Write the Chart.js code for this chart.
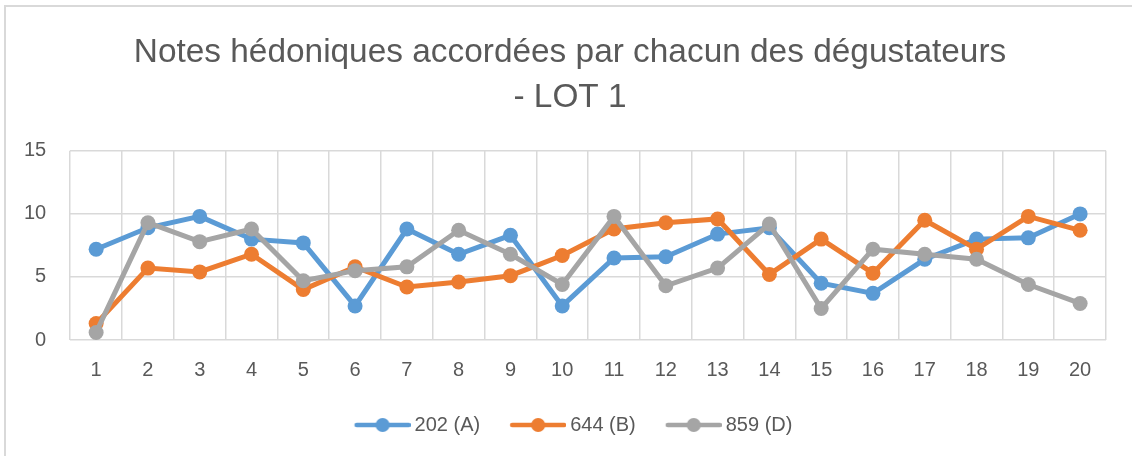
<!DOCTYPE html>
<html lang="fr">
<head>
<meta charset="UTF-8">
<title>Notes hédoniques - LOT 1</title>
<script src="https://cdn.jsdelivr.net/npm/chart.js"></script>
</head>
<body style="margin:0;background:#fff;">
<div style="position:absolute;left:4px;top:5px;width:1140px;height:460px;border:2px solid #d9d9d9;box-sizing:border-box;"></div>
<div style="position:absolute;left:0;top:0;width:1132px;height:456px;">
    <canvas id="notesChart"></canvas>
</div>
<script>
// dégustateurs 1..20
const degustateurs = ['1','2','3','4','5','6','7','8','9','10','11','12','13','14','15','16','17','18','19','20'];
const notes202 = [7.2, 8.9, 9.8, 8.0, 7.7, 2.7, 8.8, 6.8, 8.3, 2.7, 6.5, 6.6, 8.4, 8.9, 4.5, 3.7, 6.4, 8.0, 8.1, 10.0];
const notes644 = [1.3, 5.7, 5.4, 6.8, 4.0, 5.8, 4.2, 4.6, 5.1, 6.7, 8.8, 9.3, 9.6, 5.2, 8.0, 5.3, 9.5, 7.2, 9.8, 8.7];
const notes859 = [0.6, 9.3, 7.8, 8.8, 4.7, 5.5, 5.8, 8.7, 6.8, 4.4, 9.8, 4.3, 5.7, 9.2, 2.5, 7.2, 6.8, 6.4, 4.4, 2.9];
const yTicks = [0, 5, 10, 15];

const txt = '#595959';
const grid = '#d9d9d9';
const fontFam = '"Liberation Sans", Arial, sans-serif';

// symbole de légende : trait + rond, calé à droite de l'image
const SYM_BOX = 65;
function legendSymbol(color) {
    const c = document.createElement('canvas');
    c.width = SYM_BOX + 12; c.height = 16;
    const g = c.getContext('2d');
    const x0 = c.width - 56;
    g.strokeStyle = color; g.lineWidth = 4.5; g.lineCap = 'round';
    g.beginPath(); g.moveTo(x0 + 2, 8); g.lineTo(x0 + 54, 8); g.stroke();
    g.fillStyle = color;
    g.beginPath(); g.arc(x0 + 28, 8, 7, 0, Math.PI * 2); g.fill();
    return c;
}

function serie(label, data, color, order) {
    return {
        label: label,
        data: data,
        borderColor: color,
        backgroundColor: color,
        borderWidth: 5,
        pointRadius: 7.5,
        pointBorderWidth: 0,
        pointBackgroundColor: color,
        tension: 0,
        order: order
    };
}

// titre et légende centrés sur toute la largeur du cadre, pas seulement sur la zone utile
const recentrage = {
    id: 'recentrage',
    afterLayout(chart) {
        chart.titleBlock.left += 34;
        chart.legend.left += 26;
    }
};

new Chart(document.getElementById('notesChart'), {
    type: 'line',
    data: {
        labels: degustateurs,
        datasets: [
            serie('202 (A)', notes202, '#5b9bd5', 2),
            serie('644 (B)', notes644, '#ed7d31', 1),
            serie('859 (D)', notes859, '#a5a5a5', 0)
        ]
    },
    plugins: [recentrage],
    options: {
        responsive: true,
        maintainAspectRatio: false,
        animation: false,
        layout: { padding: { left: 0, right: 26, top: 30, bottom: 11 } },
        plugins: {
            tooltip: { enabled: false },
            title: {
                display: true,
                text: ['Notes hédoniques accordées par chacun des dégustateurs', '- LOT 1'],
                color: txt,
                font: { family: fontFam, size: 33.4, weight: 'normal', lineHeight: 1.36 },
                padding: { top: 0, bottom: 30 }
            },
            legend: {
                position: 'bottom',
                labels: {
                    color: txt,
                    font: { family: fontFam, size: 20 },
                    usePointStyle: true,
                    pointStyleWidth: SYM_BOX,
                    padding: 15,
                    generateLabels: function(chart) {
                        const items = Chart.defaults.plugins.legend.labels.generateLabels(chart);
                        items.forEach(it => { it.pointStyle = legendSymbol(chart.data.datasets[it.datasetIndex].borderColor); });
                        return items.sort((a, b) => a.datasetIndex - b.datasetIndex);
                    }
                }
            }
        },
        scales: {
            x: {
                offset: true,
                grid: { offset: true, color: grid, lineWidth: 1.5, drawTicks: false },
                border: { display: false },
                ticks: { color: txt, font: { family: fontFam, size: 20 }, padding: 18, maxRotation: 0 }
            },
            y: {
                min: yTicks[0],
                max: yTicks[yTicks.length - 1],
                afterBuildTicks: axis => { axis.ticks = yTicks.map(v => ({ value: v })); },
                grid: { color: grid, lineWidth: 1.5, drawTicks: false },
                border: { display: false },
                ticks: { color: txt, font: { family: fontFam, size: 20 }, padding: 24 }
            }
        }
    }
});
</script>
</body>
</html>
